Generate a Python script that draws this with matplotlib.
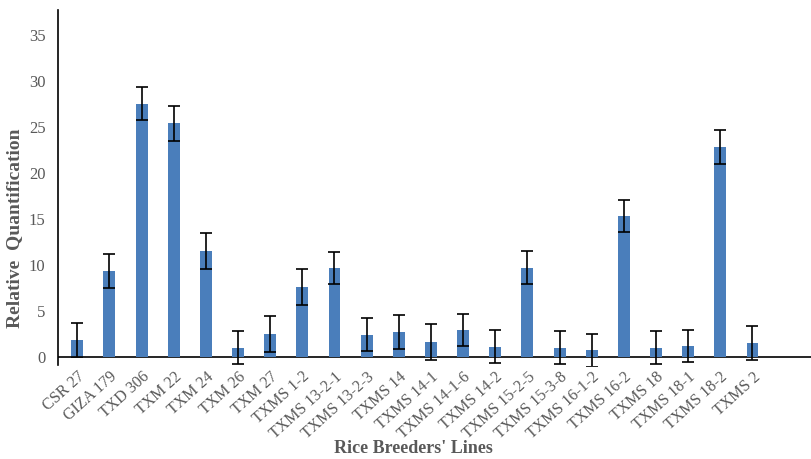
import numpy as np
import matplotlib.pyplot as plt

lines = ['CSR 27', 'GIZA 179', 'TXD 306', 'TXM 22', 'TXM 24', 'TXM 26', 'TXM 27',
         'TXMS 1-2', 'TXMS 13-2-1', 'TXMS 13-2-3', 'TXMS 14', 'TXMS 14-1',
         'TXMS 14-1-6', 'TXMS 14-2', 'TXMS 15-2-5', 'TXMS 15-3-8', 'TXMS 16-1-2',
         'TXMS 16-2', 'TXMS 18', 'TXMS 18-1', 'TXMS 18-2', 'TXMS 2']
rq = [1.85, 9.35, 27.5, 25.4, 11.5, 1.0, 2.5, 7.6, 9.7, 2.4, 2.7, 1.6,
      2.9, 1.1, 9.7, 1.0, 0.7, 15.3, 1.0, 1.2, 22.8, 1.5]
rq_err = [1.85, 1.85, 1.8, 1.9, 1.95, 1.8, 1.95, 1.95, 1.75, 1.8, 1.9, 1.95,
          1.75, 1.8, 1.8, 1.8, 1.8, 1.75, 1.8, 1.75, 1.85, 1.8]
yticks = [0, 5, 10, 15, 20, 25, 30, 35]

plt.rcParams['font.family'] = ['Liberation Serif', 'DejaVu Serif']
grey = '#595959'

fig = plt.figure(figsize=(8.11, 4.59), dpi=100)
ax = fig.add_axes([0.0715, 0.2026, 0.9285, 0.7754])

x = np.arange(len(lines))
ax.bar(x, rq, width=0.37, color='#4a7ebb', zorder=2)
ax.errorbar(x, rq, yerr=rq_err, fmt='none', ecolor='black', elinewidth=1.2,
            capsize=4.3, capthick=1.2, zorder=3)

ax.axhline(0, color='black', lw=1.2, zorder=1)
ax.set_xlim(-0.6, len(lines) - 1 + 1.82)
ax.set_ylim(-1.0, 37.7)

for s in ['top', 'right', 'bottom']:
    ax.spines[s].set_visible(False)
ax.spines['left'].set_linewidth(1.2)
ax.spines['left'].set_bounds(-0.9, 37.7)

ax.set_yticks(yticks)
ax.set_yticklabels([str(v) for v in yticks], fontsize=12, color=grey)
ax.set_xticks(x)
ax.set_xticklabels(lines, rotation=42, ha='right', rotation_mode='anchor',
                   fontsize=11.5, color=grey)
ax.tick_params(axis='both', length=0)
ax.tick_params(axis='y', pad=9)
ax.tick_params(axis='x', pad=2)

ax.set_ylabel('Relative  Quantification', fontsize=14, fontweight='bold',
              color=grey)
ax.yaxis.set_label_coords(-0.047, 0.388)
fig.text(0.51, 0.014, "Rice Breeders' Lines", ha='center', fontsize=13,
         fontweight='bold', color=grey)

fig.savefig('out.png', dpi=100)
